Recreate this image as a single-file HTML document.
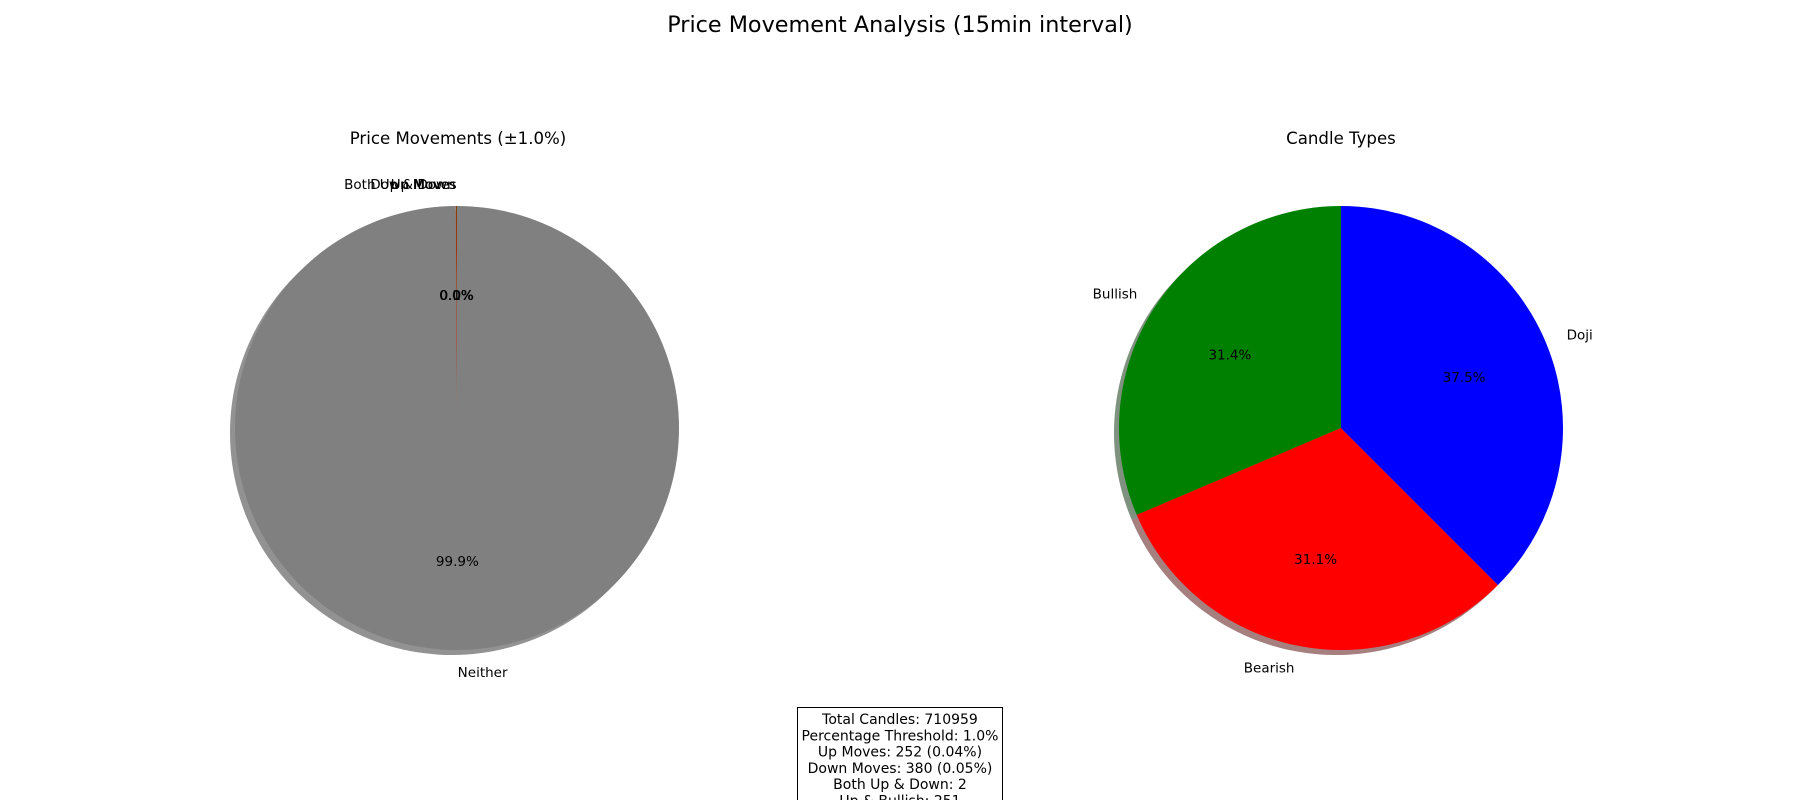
<!DOCTYPE html>
<html><head><meta charset="utf-8"><style>
html,body{margin:0;padding:0;background:#fff;}
svg{display:block;font-family:"DejaVu Sans","Liberation Sans",sans-serif;}
</style></head><body>
<svg id="chart" width="1800" height="800" viewBox="0 0 1800 800" xmlns="http://www.w3.org/2000/svg">
<text x="900" y="32" font-size="22.3" text-anchor="middle">Price Movement Analysis (15min interval)</text>
<text x="458" y="144" font-size="16.6" text-anchor="middle">Price Movements (±1.0%)</text>
<text x="1341" y="144" font-size="16.6" text-anchor="middle">Candle Types</text>
<g id="left"></g>
<g id="right"></g>
<g>
<rect x="797.5" y="707.5" width="205" height="120" fill="#fff" stroke="#000" stroke-width="1"/>
<g font-size="14" text-anchor="middle">
<text x="900" y="724">Total Candles: 710959</text>
<text x="900" y="740.3">Percentage Threshold: 1.0%</text>
<text x="900" y="756.6">Up Moves: 252 (0.04%)</text>
<text x="900" y="772.9">Down Moves: 380 (0.05%)</text>
<text x="900" y="789.2">Both Up &amp; Down: 2</text>
<text x="900" y="805.5">Up &amp; Bullish: 251</text>
</g></g>
</svg>
<script>
const moveLabels=["Up Moves","Down Moves","Both Up & Down","Neither"];
const moveValues=[252,380,2,710325];
const moveColors=["green","red","blue","gray"];
const candleLabels=["Bullish","Bearish","Doji"];
const candleValues=[31.4,31.1,37.5];
const candleColors=["green","red","blue"];
const NS="http://www.w3.org/2000/svg";
function mk(t,a){const e=document.createElementNS(NS,t);for(const k in a)e.setAttribute(k,a[k]);return e;}
function rgb(c){return {green:[0,128,0],red:[255,0,0],blue:[0,0,255],gray:[128,128,128]}[c];}
function drawPie(g,cx,cy,r,labels,values,colors,key){
  const total=values.reduce((a,b)=>a+b,0);
  const shadows=mk('g',{});const slices=mk('g',{});const texts=mk('g',{'font-size':'13.5'});
  g.appendChild(shadows);g.appendChild(slices);g.appendChild(texts);
  let a=90;
  values.forEach((v,i)=>{
    const frac=v/total, sweep=frac*360, a2=a+sweep;
    const p=(ang)=>[cx+r*Math.cos(ang*Math.PI/180),cy-r*Math.sin(ang*Math.PI/180)];
    const [x1,y1]=p(a),[x2,y2]=p(a2);
    const large=sweep>180?1:0;
    const d=`M${cx},${cy} L${x1},${y1} A${r},${r} 0 ${large} 0 ${x2},${y2} Z`;
    const c=rgb(colors[i]);
    const sh=mk('path',{d:d,transform:'translate(-5,5)',fill:`rgb(${c.map(x=>Math.round(x*0.3)).join(',')})`,'fill-opacity':'0.5'});
    
    
    shadows.appendChild(sh);
    const sl=mk('path',{d:d,fill:colors[i]});
    
    
    slices.appendChild(sl);
    const mid=(a+a2)/2*Math.PI/180;
    const lx=cx+1.1*r*Math.cos(mid), ly=cy-1.1*r*Math.sin(mid);
    const lt=mk('text',{x:lx,y:ly+5,'text-anchor':Math.cos(mid)>0?'start':'end'});
    lt.textContent=labels[i];
    
    
    texts.appendChild(lt);
    const px=cx+0.6*r*Math.cos(mid), py=cy-0.6*r*Math.sin(mid);
    const pt=mk('text',{x:px,y:py+5,'text-anchor':'middle'});
    pt.textContent=(frac*100).toFixed(1)+'%';
    
    
    texts.appendChild(pt);
    a=a2;
  });
}
drawPie(document.getElementById('left'),457,428,222,moveLabels,moveValues,moveColors,'moves');
drawPie(document.getElementById('right'),1341,428,222,candleLabels,candleValues,candleColors,'candles');
</script>
</body></html>
